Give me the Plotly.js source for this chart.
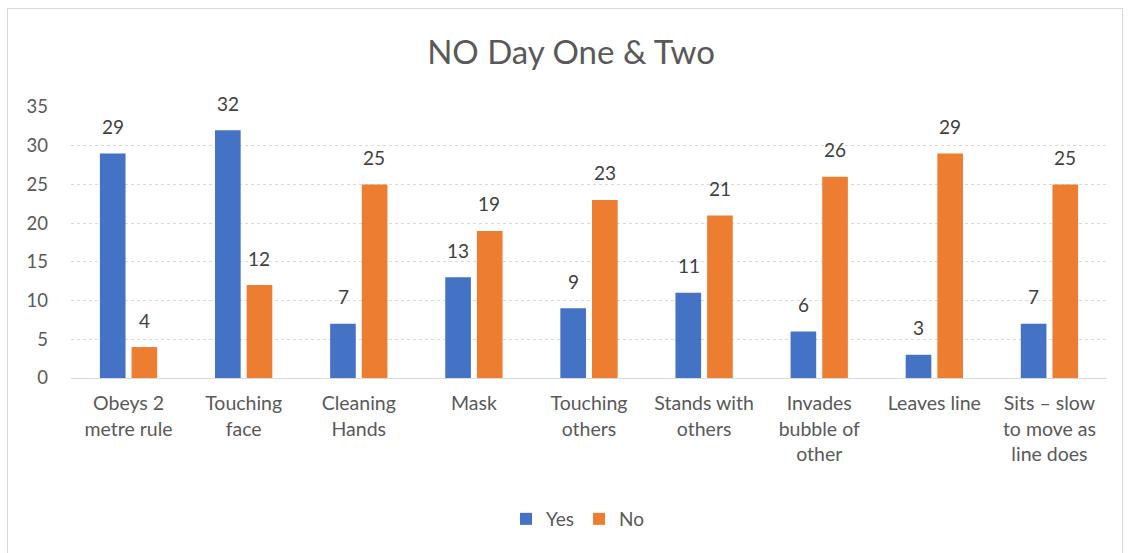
<!DOCTYPE html>
<html>
<head>
<meta charset="utf-8">
<script src="https://cdn.plot.ly/plotly-3.0.1.min.js"></script>
<style>
  html, body { margin: 0; padding: 0; background: #fff; }
  #wrap { position: relative; width: 1128px; height: 553px; overflow: hidden; }
  #chart { width: 1128px; height: 553px; }
  #frame { position: absolute; left: 7px; top: 8px; width: 1116px; height: 560px;
           border: 1px solid #d9d9d9; pointer-events: none; box-sizing: border-box; }
</style>
</head>
<body>
<div id="wrap">
  <div id="chart"></div>
  <div id="frame"></div>
</div>
<script>
const categories = [
  "Obeys 2<br>metre rule",
  "Touching<br>face",
  "Cleaning<br>Hands",
  "Mask",
  "Touching<br>others",
  "Stands with<br>others",
  "Invades<br>bubble of<br>other",
  "Leaves line",
  "Sits \u2013 slow<br>to move as<br>line does"
];
const yesValues = [29, 32, 7, 13, 9, 11, 6, 3, 7];
const noValues = [4, 12, 25, 19, 23, 21, 26, 29, 25];
const yTicks = [0, 5, 10, 15, 20, 25, 30, 35];

const FONT = "Lato, 'Open Sans', sans-serif";
const idx = categories.map((c, i) => i);

const traces = [
  { type: "bar", name: "Yes", x: idx, y: yesValues, marker: { color: "#4472C4" }, hoverinfo: "y" },
  { type: "bar", name: "No", x: idx, y: noValues, marker: { color: "#ED7D31" }, hoverinfo: "y" }
];

const annotations = [];
yesValues.forEach((v, i) => annotations.push({
  x: i, y: v, xref: "x", yref: "y", text: String(v), showarrow: false,
  xshift: -15.5, yshift: 27, yanchor: "middle",
  font: { family: FONT, size: 19, color: "#404040" }
}));
noValues.forEach((v, i) => annotations.push({
  x: i, y: v, xref: "x", yref: "y", text: String(v), showarrow: false,
  xshift: 15.5, yshift: 27, yanchor: "middle",
  font: { family: FONT, size: 19, color: "#404040" }
}));

const layout = {
  width: 1128, height: 553,
  margin: { l: 71, r: 21, t: 107, b: 175 },
  paper_bgcolor: "#ffffff", plot_bgcolor: "#ffffff",
  barmode: "group", bargap: 0.45, bargroupgap: 0.19,
  title: {
    text: "NO Day One &amp; Two",
    x: 571 / 1128, xanchor: "center", xref: "container",
    y: 1 - 52 / 553, yanchor: "middle", yref: "container",
    font: { family: FONT, size: 33, color: "#595959" }
  },
  xaxis: {
    tickmode: "array", tickvals: idx, ticktext: categories,
    range: [-0.5, categories.length - 0.5],
    showgrid: false, zeroline: false,
    showline: true, linecolor: "#d9d9d9", linewidth: 1,
    ticks: "", ticklabelstandoff: 8,
    tickfont: { family: FONT, size: 19.5, color: "#595959" }
  },
  yaxis: {
    range: [0, 35], tickmode: "array", tickvals: yTicks,
    showgrid: true, gridcolor: "#d9d9d9", gridwidth: 1, griddash: "dot",
    zeroline: false, showline: false, ticks: "", ticklabelstandoff: 22,
    tickfont: { family: FONT, size: 18.5, color: "#595959" }
  },
  legend: {
    orientation: "h", x: (578 - 71) / 1036, xanchor: "center",
    y: -141 / 271, yanchor: "middle",
    font: { family: FONT, size: 19, color: "#595959" },
    itemwidth: 30
  },
  annotations: annotations,
  showlegend: true
};

Plotly.newPlot("chart", traces, layout, { displayModeBar: false, staticPlot: true });
</script>
</body>
</html>
